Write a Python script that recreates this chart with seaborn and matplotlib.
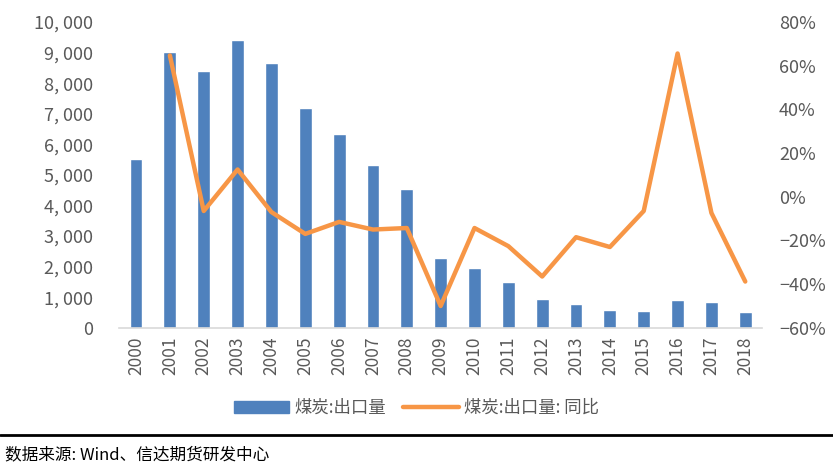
import numpy as np
import pandas as pd
import matplotlib
matplotlib.use("Agg")
import matplotlib.pyplot as plt
from matplotlib.lines import Line2D
from matplotlib.ticker import FuncFormatter, FixedLocator
import seaborn as sns

years = [str(y) for y in range(2000, 2019)]
export_volume = [5520, 9010, 8400, 9410, 8660, 7190, 6340, 5330, 4540, 2290,
                 1960, 1500, 950, 780, 590, 560, 910, 850, 520]
yoy_pct = [np.nan, 64.7, -6.5, 12.5, -7.0, -17.0, -11.5, -15.0, -14.3, -50.0,
           -14.3, -22.6, -36.5, -18.5, -23.0, -6.5, 65.6, -7.4, -38.8]
bar_label = "煤炭:出口量"
line_label = "煤炭:出口量: 同比"
source_text = "数据来源: Wind、信达期货研发中心"

sns.set_style("white")
plt.rcParams["font.family"] = ["Noto Sans CJK SC", "DejaVu Sans"]
plt.rcParams["axes.unicode_minus"] = True

bar_color = "#4F81BD"
line_color = "#F79646"
text_color = "#595959"

df = pd.DataFrame({"year": years, "volume": export_volume, "yoy": yoy_pct})
df["pos"] = np.arange(len(df))

fig = plt.figure(figsize=(8.33, 4.69), dpi=100)
ax = fig.add_axes([0.143, 0.301, 0.772, 0.652])

sns.barplot(data=df, x="year", y="volume", color=bar_color, width=0.38,
            saturation=1, ax=ax, label=bar_label)
ax.set_ylim(0, 10000)
ax.set_xlim(-0.5, len(years) - 0.5)
ax.set_yticks(np.arange(0, 10001, 1000))
ax.yaxis.set_major_formatter(FuncFormatter(lambda v, _: f"{v:,.0f}".replace(",", ", ")))
ax.set_xlabel("")
ax.set_ylabel("")
for s in ["top", "right", "left"]:
    ax.spines[s].set_visible(False)
ax.spines["bottom"].set_color("#d9d9d9")
ax.spines["bottom"].set_linewidth(1.2)
ax.tick_params(axis="x", which="major", length=0, rotation=90, labelsize=12.5,
               labelcolor=text_color, pad=6)
ax.xaxis.set_minor_locator(FixedLocator(np.arange(-0.5, len(years), 1.0)))
ax.tick_params(axis="x", which="minor", length=5, color="#d9d9d9", width=1.2)
ax.tick_params(axis="y", length=0, labelsize=13, labelcolor=text_color, pad=19)

ax2 = ax.twinx()
sns.lineplot(data=df, x="pos", y="yoy", color=line_color, linewidth=3.2,
             ax=ax2, label=line_label, legend=False)
ax2.set_ylim(-60, 80)
ax2.set_yticks(np.arange(-60, 81, 20))
ax2.yaxis.set_major_formatter(FuncFormatter(lambda v, _: f"{v:.0f}%".replace("-", "\u2212")))
ax2.set_ylabel("")
for s in ["top", "right", "left", "bottom"]:
    ax2.spines[s].set_visible(False)
ax2.tick_params(axis="y", length=0, labelsize=13, labelcolor=text_color, pad=12)
ax.set_xlim(-0.5, len(years) - 0.5)

handles = [plt.Rectangle((0, 0), 1, 1, color=bar_color),
           Line2D([0], [0], color=line_color, linewidth=3.2)]
fig.legend(handles, [bar_label, line_label], loc="center",
           bbox_to_anchor=(0.5, 1 - 408 / 469), ncol=2, frameon=False,
           fontsize=12.5, labelcolor=text_color, handlelength=3.2,
           handletextpad=0.3, columnspacing=1.0)
if ax.get_legend():
    ax.get_legend().remove()

fig.add_artist(Line2D([0, 1], [1 - 435 / 469] * 2, color="black", linewidth=2))
fig.text(0.006, 1 - 455 / 469, source_text, fontsize=12, color="black", va="center")

fig.savefig("out.png", dpi=100)
